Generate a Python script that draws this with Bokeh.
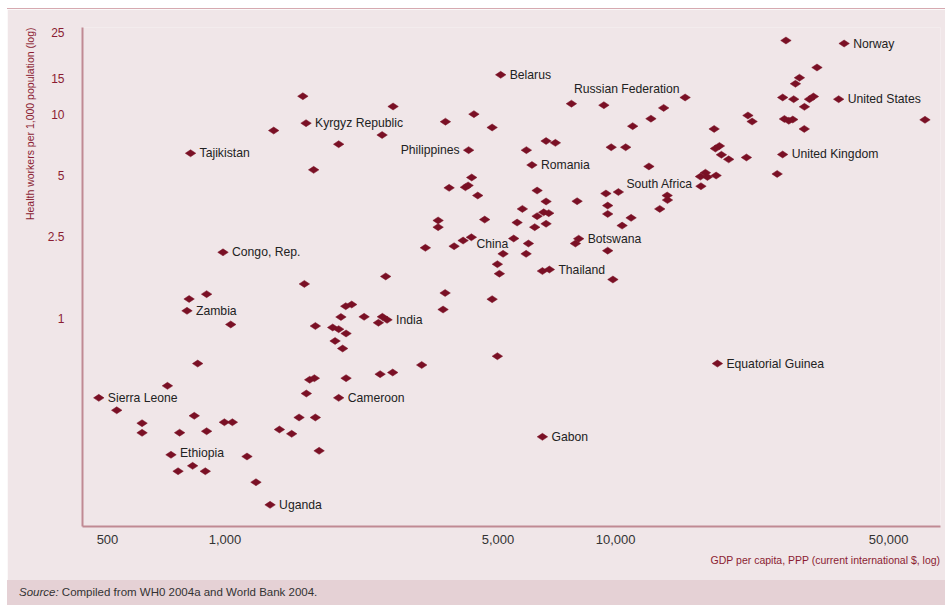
import numpy as np
from bokeh.plotting import figure
from bokeh.models import FixedTicker, ColumnDataSource, Div, Range1d, Title
from bokeh.layouts import column
from bokeh.core.properties import value
from bokeh.embed import file_html
from bokeh.resources import INLINE

# ---------------- data ----------------
country = (
    ["Tajikistan", "", "", "Kyrgyz Republic", "", "", "", ""]
    + ["Congo, Rep.", "", "", "", "Zambia", "", "", "", "", "", "", "", "", "", "", ""]
    + ["India", "", "", "", "", "", "Sierra Leone", "", "", "", "", "", "", "", ""]
    + ["Ethiopia", "", "", "", "", "", "Uganda", "", "", "", "", "", "", "", "", ""]
    + ["Cameroon", "", "", "", "", "", "", "", "Gabon", "Equatorial Guinea", ""]
    + ["", "Thailand", "", "", "", "", "", "", "China", "", "", "", "", "", "", "", ""]
    + ["", "", "", "", "", "", "", "", "", "", "", "", "", "Philippines", "", "", ""]
    + ["Romania", "", "", "", "Belarus", "", "Russian Federation", "", "", "", "", "", ""]
    + ["", "", "Botswana", "", "", "South Africa", "", "", "", "", "", "", "", "", ""]
    + ["", "", "", "", "", "", "", "", "", "", "", "", "United Kingdom", "", ""]
    + ["", "", "", "", "", "", "", "", "", "", "", "Norway", "United States", ""]
)
gdp = (
    [816, 1332, 1582, 1612, 1686, 1954, 2524, 2693]
    + [988, 1596, 897, 809, 799, 1034, 2037, 2110, 2270, 1980, 1703, 1886, 1954, 2041, 1913, 2000]
    + [2599, 2528, 2470, 2578, 851, 712, 475, 528, 613, 613, 834, 765, 897, 996, 1044]
    + [727, 826, 758, 890, 1138, 1200, 1304, 1378, 1481, 1547, 1703, 1741, 1615, 1647, 1693, 2041]
    + [1954, 2495, 2687, 3188, 3660, 3616, 4829, 4981, 6495, 18225, 9842]
    + [6495, 6768, 5040, 4981, 5151, 5900, 5981, 5484, 4273, 4069, 3859, 3258, 3512, 3512, 4621, 5595, 6207]
    + [6637, 5772, 6295, 6545, 6741, 6637, 6295, 7969, 3747, 4125, 4191, 4281, 4436, 4204, 5909, 6637, 7012]
    + [6106, 3667, 4337, 4829, 5079, 7706, 9333, 11060, 12315, 13275, 15066, 9743, 10614]
    + [12170, 7890, 8044, 9545, 9445, 10166, 9545, 9545, 10956, 10390, 13552, 13577, 12973, 16540, 16490]
    + [16982, 17183, 18088, 17877, 18441, 18013, 18659, 19480, 21627, 21817, 22360, 25920, 26770, 27060, 27760]
    + [28420, 30410, 26780, 28570, 31360, 32100, 30440, 29560, 28870, 32780, 27300, 38470, 37250, 61960]
)
hw = (
    [6.43, 8.31, 12.24, 9.03, 5.33, 7.12, 7.90, 10.90]
    + [2.10, 1.47, 1.31, 1.24, 1.085, 0.93, 1.143, 1.165, 1.014, 1.012, 0.914, 0.899, 0.882, 0.84, 0.772, 0.709]
    + [0.98, 1.014, 0.948, 1.60, 0.598, 0.465, 0.406, 0.353, 0.305, 0.2736, 0.3316, 0.274, 0.2786, 0.3084, 0.3084]
    + [0.2135, 0.1884, 0.1773, 0.1773, 0.2094, 0.1566, 0.1213, 0.284, 0.2705, 0.3253, 0.3253, 0.2233, 0.4265, 0.498, 0.507, 0.507]
    + [0.406, 0.5305, 0.5407, 0.5884, 1.327, 1.101, 1.237, 0.650, 0.2615, 0.598, 1.545]
    + [1.70, 1.73, 1.65, 1.837, 2.065, 2.065, 2.32, 2.455, 2.49, 2.40, 2.25, 2.21, 3.01, 2.79, 3.04, 2.94, 2.79]
    + [2.90, 3.43, 3.16, 3.30, 3.27, 3.73, 4.22, 3.74, 4.35, 4.38, 4.47, 4.89, 3.99, 6.66, 6.66, 7.38, 7.23]
    + [5.63, 9.18, 10.0, 8.60, 15.59, 11.25, 11.06, 8.73, 9.50, 10.73, 12.07, 6.88, 6.88]
    + [5.54, 2.32, 2.45, 2.14, 4.08, 4.15, 3.56, 3.24, 3.10, 2.84, 3.99, 3.79, 3.43, 4.43, 4.94]
    + [5.16, 4.92, 5.00, 8.46, 6.98, 6.78, 6.32, 6.00, 6.13, 9.85, 9.20, 5.09, 6.34, 9.47, 9.28]
    + [9.41, 8.46, 12.07, 11.84, 11.84, 12.20, 10.86, 15.08, 14.09, 16.93, 22.97, 22.2, 11.84, 9.38]
)

x_ticks = [500, 1000, 5000, 10000, 50000]
x_tick_labels = ["500", "1,000", "5,000", "10,000", "50,000"]
y_ticks = [1, 2.5, 5, 10, 15, 25]
y_tick_labels = ["1", "2.5", "5", "10", "15", "25"]

x_title = "GDP per capita, PPP (current international $, log)"
y_title = "Health workers per 1,000 population (log)"
source_note = "Compiled from WH0 2004a and World Bank 2004."

# --------------- styling ---------------
BG = "#f0e6e8"
STRIP = "#e5d1d5"
LINE = "#d6a9b0"
MARK = "#7a1025"
RED = "#8b1c32"
AXIS = "#c08a93"
TXT = "#222222"
FONT = "Liberation Sans"

# label offsets (screen px): (dx, dy, align)
offsets = {
    "Philippines": (-9, 0, "right"),
    "Russian Federation": (-30, -16, "left"),
    "South Africa": (8, -8, "left"),
    "China": (5, 7, "left"),
    "Ethiopia": (9, -2, "left"),
}

p = figure(width=938, height=571, x_axis_type="log", y_axis_type="log",
           x_range=Range1d(431.5, 67900), y_range=Range1d(0.095, 26.6),
           output_backend="svg", toolbar_location=None,
           min_border_left=75, min_border_right=5, min_border_top=18, min_border_bottom=54)
p.margin = (0, 0, 0, 7)
p.background_fill_color = BG
p.border_fill_color = BG
p.outline_line_color = None
p.grid.visible = False

src = ColumnDataSource(dict(x=gdp, y=hw))
p.scatter("x", "y", source=src, marker="diamond", angle=np.pi / 2, size=10.5,
          fill_color=MARK, line_color=MARK, line_width=0.5)

lx, ly, lt, dx, dy, al = [], [], [], [], [], []
for c, xv, yv in zip(country, gdp, hw):
    if c:
        o = offsets.get(c, (9, 0, "left"))
        lx.append(xv); ly.append(yv); lt.append(c)
        dx.append(o[0]); dy.append(o[1]); al.append(o[2])
lsrc = ColumnDataSource(dict(x=lx, y=ly, t=lt, dx=dx, dy=dy, al=al))
p.text("x", "y", text="t", source=lsrc, x_offset="dx", y_offset="dy", text_align="al",
       text_baseline="middle", text_font=value(FONT), text_font_size="12.2px", text_color=TXT)

for ax in (p.xaxis[0], p.yaxis[0]):
    ax.axis_line_color = AXIS
    ax.axis_line_width = 2
    ax.major_tick_line_color = None
    ax.minor_tick_line_color = None
    ax.major_label_text_font = FONT

p.xaxis.ticker = FixedTicker(ticks=x_ticks)
p.yaxis.ticker = FixedTicker(ticks=y_ticks)
p.xaxis.major_label_overrides = {float(k): v for k, v in zip(x_ticks, x_tick_labels)}
p.yaxis.major_label_overrides = {float(k): v for k, v in zip(y_ticks, y_tick_labels)}
p.xaxis.major_label_text_font_size = "13px"
p.yaxis.major_label_text_font_size = "12px"
p.xaxis.major_label_text_color = "#333333"
p.yaxis.major_label_text_color = RED
p.xaxis.major_label_standoff = 2
p.yaxis.major_label_standoff = 12

xt = Title(text=x_title, align="right", text_font=FONT, text_font_size="10.5px",
           text_font_style="normal", text_color=RED, standoff=10)
yt = Title(text=y_title, align="right", text_font=FONT, text_font_size="10.5px",
           text_font_style="normal", text_color=RED, standoff=18)
p.add_layout(xt, "below")
p.add_layout(yt, "left")

top_line = Div(text="", width=938, height=1, margin=(8, 0, 0, 7),
               styles={"background-color": LINE})

note = Div(text=(
    f'<div style="background:{STRIP};width:938px;height:25px;line-height:25px;'
    f'padding-left:12px;box-sizing:border-box;font-family:\'Liberation Sans\',sans-serif;'
    f'font-size:11.5px;color:#333;white-space:nowrap"><i>Source:</i> {source_note}</div>'),
    width=938, height=25, margin=(0, 0, 0, 7))

layout = column(top_line, p, note, spacing=0)
open("out.html", "w").write(file_html(layout, INLINE))
